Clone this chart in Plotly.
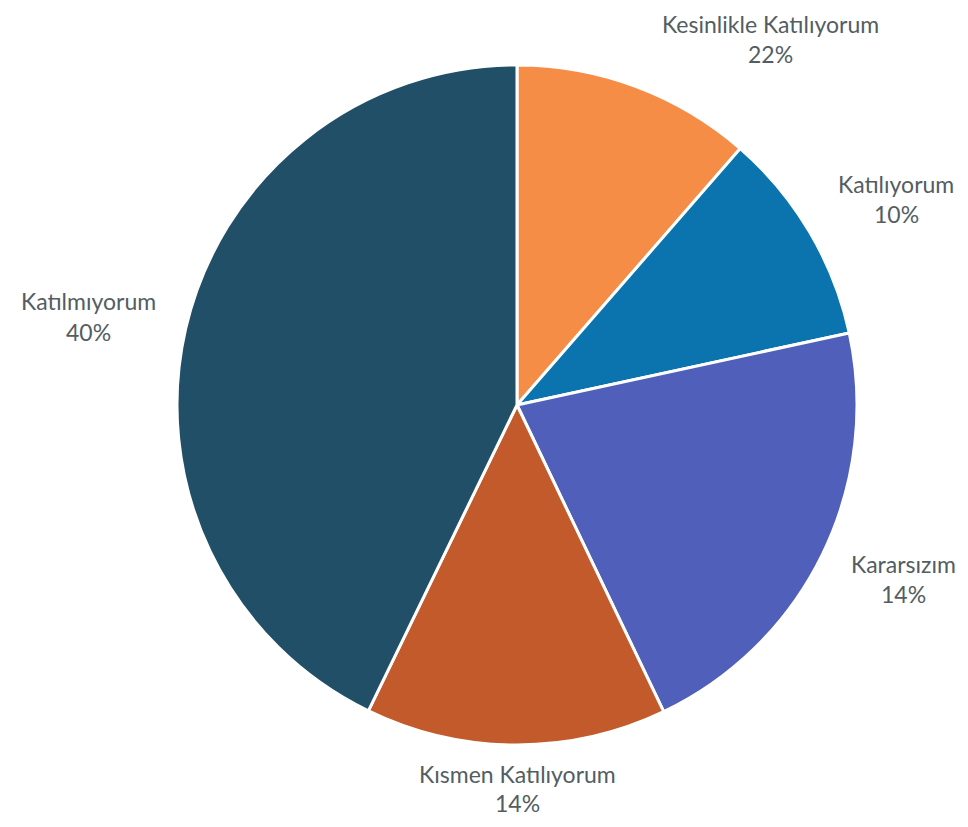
import plotly.graph_objects as go

# Data
categories = ["Kesinlikle Katılıyorum", "Katılıyorum", "Kararsızım", "Kısmen Katılıyorum", "Katılmıyorum"]
slice_values = [11.4, 10.2, 21.3, 14.3, 42.8]
label_percents = ["22%", "10%", "14%", "14%", "40%"]
colors = ["#F68D47", "#0B73AD", "#5060BA", "#C35A2B", "#214F68"]

W, H = 968, 827
OFF = 8  # page body margin offset
cx, cy, r = 517 - OFF, 405 - OFF, 340

fig = go.Figure(go.Pie(
    labels=categories,
    values=slice_values,
    sort=False,
    direction="clockwise",
    rotation=0,
    marker=dict(colors=colors, line=dict(color="white", width=3)),
    textinfo="none",
    hoverinfo="label+value",
    domain=dict(x=[(cx - r) / W, (cx + r) / W], y=[1 - (cy + r) / H, 1 - (cy - r) / H]),
    showlegend=False,
))

# label placement (pixel centres of name line and percent line)
label_pos = [
    ((770, 24), (770, 54)),
    ((896, 184), (896, 214)),
    ((903, 564), (903, 594)),
    ((517, 774), (517, 803)),
    ((88, 301), (88, 332)),
]
font = dict(family="Lato, 'Open Sans', sans-serif", size=23, color="#535D62")
anns = []
for name, pct, (p1, p2) in zip(categories, label_percents, label_pos):
    for txt, (px, py) in ((name, p1), (pct, p2)):
        anns.append(dict(x=(px - OFF) / W, y=1 - (py - OFF) / H, xref="paper", yref="paper", text=txt,
                         showarrow=False, xanchor="center", yanchor="middle", font=font,
                         borderpad=0))

fig.update_layout(
    width=W, height=H,
    margin=dict(l=0, r=0, t=0, b=0),
    paper_bgcolor="white", plot_bgcolor="white",
    annotations=anns,
)
fig.write_html("out.html")
